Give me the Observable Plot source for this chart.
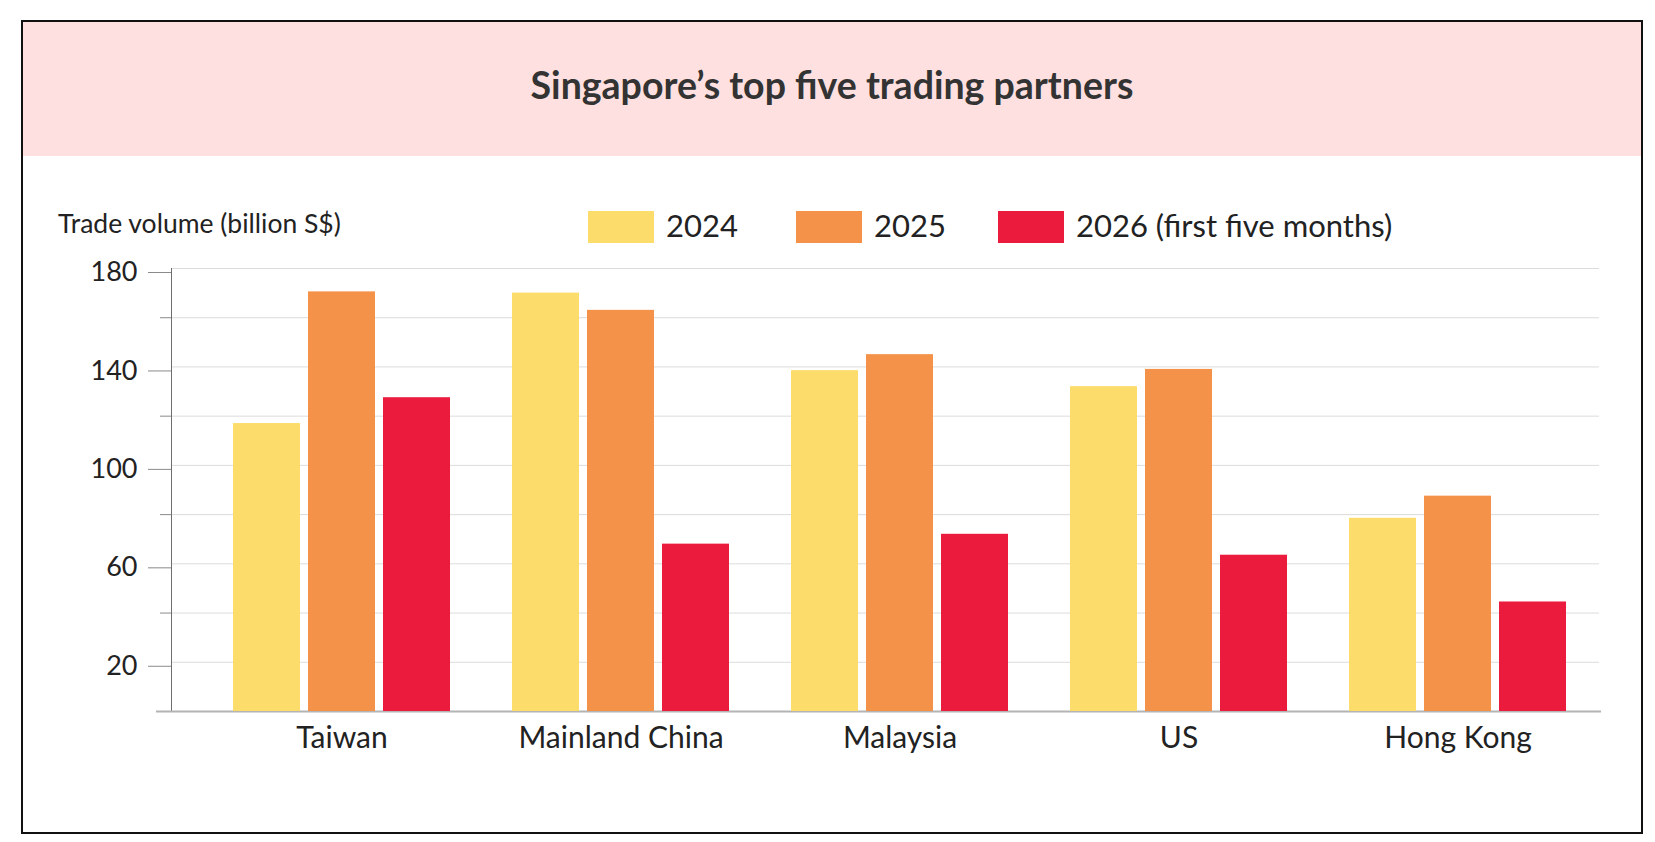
<!DOCTYPE html>
<html>
<head>
<meta charset="utf-8">
<script src="https://cdn.jsdelivr.net/npm/d3@7"></script>
<script src="https://cdn.jsdelivr.net/npm/@observablehq/plot@0.6"></script>
<style>
  body { margin: 0; background: #fff; font-family: Lato, "Open Sans", sans-serif; color: #222; }
  #box { position: absolute; left: 21px; top: 20px; width: 1618px; height: 810px; border: 2px solid #111; }
  #header { position: absolute; left: 23px; top: 22px; width: 1618px; height: 134px; background: #fde0df;
            display: flex; align-items: center; justify-content: center; }
  #header h1 { margin: 0 0 10px 0; font-size: 37.5px; font-weight: 700; color: #333; }
  #ylabel { position: absolute; left: 58px; top: 210px; font-size: 26.5px; line-height: 26px; color: #222; }
  .item { position: absolute; top: 208px; display: flex; align-items: center; font-size: 31px; color: #222; }
  .item span { position: relative; top: -2px; }
  .sw { width: 66px; height: 32px; margin-right: 12px; }
  .plot { position: absolute; left: 0; top: 250px; }
</style>
</head>
<body>
<div id="box"></div>
<div id="header"><h1>Singapore’s top five trading partners</h1></div>
<div id="ylabel">Trade volume (billion S$)</div>
<div id="legend"></div>
<div id="bg" class="plot"></div>
<div id="fg" class="plot"></div>
<script>
// Trade volume with Singapore, billion S$
const countries = ["Taiwan", "Mainland China", "Malaysia", "US", "Hong Kong"];
const series = ["2024", "2025", "2026 (first five months)"];
const v2024 = [117, 170, 138.5, 132, 78.5];
const v2025 = [170.5, 163, 145, 139, 87.5];
const v2026 = [127.5, 68, 72, 63.5, 44.5];
const colors = ["#fcdd6b", "#f5924a", "#ea1b3c"];
const labeledTicks = [20, 60, 100, 140, 180];
const minorTicks = [40, 80, 120, 160];
const gridTicks = [20, 40, 60, 80, 100, 120, 140, 160, 180];

const rows = [];
[v2024, v2025, v2026].forEach((vals, s) =>
  countries.forEach((c, i) => rows.push({country: c, series: series[s], value: vals[i]}))
);

// legend
const legendLeft = [588, 796, 998];
const legend = document.getElementById("legend");
series.forEach((s, i) => {
  const item = document.createElement("div");
  item.className = "item";
  item.style.left = legendLeft[i] + "px";
  item.innerHTML = `<div class="sw" style="background:${colors[i]}"></div><span>${s}</span>`;
  legend.appendChild(item);
});

const frame = {
  width: 1655, height: 531,
  marginLeft: 171, marginRight: 56, marginTop: 18, marginBottom: 70,
  style: {background: "transparent", fontFamily: "Lato, sans-serif", color: "#222"}
};

// axis, grid and baseline spanning the whole plot area
const bg = Plot.plot({
  ...frame,
  x: {domain: [0, 1], axis: null},
  y: {domain: [0, 180], axis: null},
  marks: [
    Plot.gridY({ticks: gridTicks, stroke: "#dcdcdc", strokeOpacity: 1}),
    Plot.axisY({ticks: labeledTicks, tickSize: 23, tickPadding: 11, stroke: "#8a8a8a", fill: "#222",
                fontSize: 27, dy: 4, label: null, tickFormat: d => String(d)}),
    Plot.axisY({ticks: minorTicks, tickSize: 11, stroke: "#8a8a8a", tickFormat: () => "", label: null}),
    Plot.ruleX([0], {y1: 0, y2: 180, stroke: "#6e6e6e"}),
    Plot.ruleY([0], {stroke: "#b4b4b4", strokeWidth: 2, insetLeft: -15, insetRight: -2})
  ]
});
document.getElementById("bg").appendChild(bg);

// grouped bars, one facet per trading partner
const fg = Plot.plot({
  ...frame,
  fx: {domain: countries, paddingInner: 0.2236, paddingOuter: 0.1664, align: 0.65, label: null},
  x: {domain: series, paddingInner: 0.107, paddingOuter: 0, axis: null},
  y: {domain: [0, 180], axis: null},
  color: {domain: series, range: colors},
  marks: [
    Plot.barY(rows, {fx: "country", x: "series", y: "value", fill: "series"}),
    Plot.axisFx({anchor: "bottom", tickSize: 0, tickPadding: 15, fontSize: 30, fill: "#222", label: null})
  ]
});
document.getElementById("fg").appendChild(fg);
</script>
</body>
</html>
